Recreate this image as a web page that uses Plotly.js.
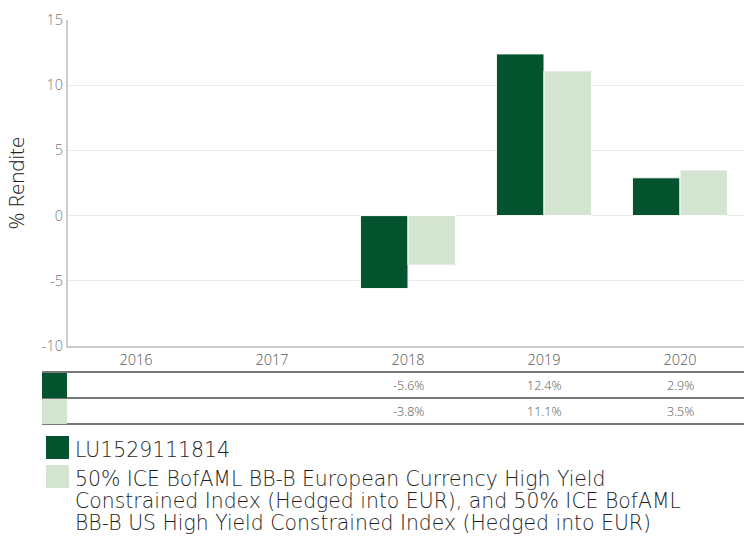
<!DOCTYPE html>
<html>
<head>
<meta charset="utf-8">
<script src="https://cdn.plot.ly/plotly-3.0.1.min.js"></script>
<style>html,body{margin:0;padding:0;background:#fff;}#chart{width:744px;height:536px;}</style>
</head>
<body>
<div id="chart"></div>
<script>
const years = ["2016", "2017", "2018", "2019", "2020"];
const fundName = "LU1529111814";
const indexNameLines = [
  "50% ICE BofAML BB-B European Currency High Yield",
  "Constrained Index (Hedged into EUR), and 50% ICE BofAML",
  "BB-B US High Yield Constrained Index (Hedged into EUR)"
];
const fundValues = [null, null, -5.6, 12.4, 2.9];
const indexValues = [null, null, -3.8, 11.1, 3.5];
const yTicks = [-10, -5, 0, 5, 10, 15];
const yTickText = ["-10", "-5", "0", "5", "10", "15"];
const yTitle = "% Rendite";

const darkGreen = "#03532F";
const lightGreen = "#D3E5D0";
const FONT = "'Open Sans', Lato, sans-serif";
const LEG_FAMILY = "'DejaVu Sans', 'Open Sans', sans-serif";

const traces = [
  {type: "bar", x: years, y: fundValues, name: fundName, marker: {color: darkGreen, line: {color: "#fff", width: 1}}, hoverinfo: "skip"},
  {type: "bar", x: years, y: indexValues, name: indexNameLines.join(" "), marker: {color: lightGreen, line: {color: "#fff", width: 1}}, hoverinfo: "skip"}
];

const PLOT_TOP = 20, PLOT_BOTTOM = 346, PLOT_LEFT = 68, PLOT_RIGHT = 744;
function py(p){ return (PLOT_BOTTOM - p) / (PLOT_BOTTOM - PLOT_TOP); }
function px(p){ return (p - PLOT_LEFT) / (PLOT_RIGHT - PLOT_LEFT); }

const annotations = [];
const fmt = v => (v === null ? "" : v.toFixed(1) + "%");
years.forEach((yr, i) => {
  if (fundValues[i] !== null)
    annotations.push({x: i, xref: "x", y: py(385), yref: "paper", text: fmt(fundValues[i]), showarrow: false, font: {family: FONT, size: 12.5, color: "#555", weight: 300}, xanchor: "center", yanchor: "middle"});
  if (indexValues[i] !== null)
    annotations.push({x: i, xref: "x", y: py(411), yref: "paper", text: fmt(indexValues[i]), showarrow: false, font: {family: FONT, size: 12.5, color: "#555", weight: 300}, xanchor: "center", yanchor: "middle"});
});
const LEG_FONT = {family: LEG_FAMILY, size: 20.4, color: "#1e1e1e", weight: 200};
annotations.push({x: px(73), xref: "paper", y: py(450), yref: "paper", text: fundName, showarrow: false, xanchor: "left", yanchor: "middle", font: LEG_FONT});
const lineCenters = [479, 501, 523];
indexNameLines.forEach((t, k) => {
  annotations.push({x: px(73), xref: "paper", y: py(lineCenters[k]), yref: "paper", text: t, showarrow: false, xanchor: "left", yanchor: "middle", align: "left", font: LEG_FONT});
});

const shapes = [];
[372, 398, 424].forEach(yy => {
  shapes.push({type: "line", xref: "paper", yref: "paper", x0: px(42), x1: 1, y0: py(yy), y1: py(yy), line: {color: "#4a4a4a", width: 1.6}});
});
shapes.push({type: "rect", xref: "paper", yref: "paper", x0: px(42), x1: px(67), y0: py(398), y1: py(373), fillcolor: darkGreen, line: {width: 0}});
shapes.push({type: "rect", xref: "paper", yref: "paper", x0: px(42), x1: px(67), y0: py(424), y1: py(399), fillcolor: lightGreen, line: {width: 0}});
shapes.push({type: "rect", xref: "paper", yref: "paper", x0: px(46), x1: px(69), y0: py(459), y1: py(436), fillcolor: darkGreen, line: {width: 0}});
shapes.push({type: "rect", xref: "paper", yref: "paper", x0: px(46), x1: px(69), y0: py(488), y1: py(465), fillcolor: lightGreen, line: {width: 0}});

const layout = {
  width: 744, height: 536,
  margin: {l: PLOT_LEFT, r: 744 - PLOT_RIGHT, t: PLOT_TOP, b: 536 - PLOT_BOTTOM, pad: 0},
  paper_bgcolor: "#fff", plot_bgcolor: "#fff",
  showlegend: false,
  barmode: "group",
  bargap: 0.3, bargroupgap: 0,
  font: {family: FONT, color: "#666"},
  xaxis: {type: "category", categoryorder: "array", categoryarray: years, range: [-0.5, 4.4706], fixedrange: true,
    showgrid: false, showline: true, linecolor: "#ccc", linewidth: 2, ticks: "", tickfont: {family: FONT, size: 14.5, color: "#555", weight: 300}, zeroline: false},
  yaxis: {range: [-10, 15], tickvals: yTicks, ticktext: yTickText, showgrid: true, gridcolor: "#ebebeb", gridwidth: 1, zeroline: true, zerolinecolor: "#ebebeb", zerolinewidth: 1.5, showline: true, linecolor: "#ccc", linewidth: 2, ticks: "", tickfont: {family: FONT, size: 14.5, color: "#777", weight: 300},
    title: {text: yTitle, font: {family: FONT, size: 20.5, color: "#222", weight: 300}, standoff: 12}},
  annotations: annotations,
  shapes: shapes
};
Plotly.newPlot("chart", traces, layout, {displayModeBar: false, staticPlot: true});
</script>
</body>
</html>
